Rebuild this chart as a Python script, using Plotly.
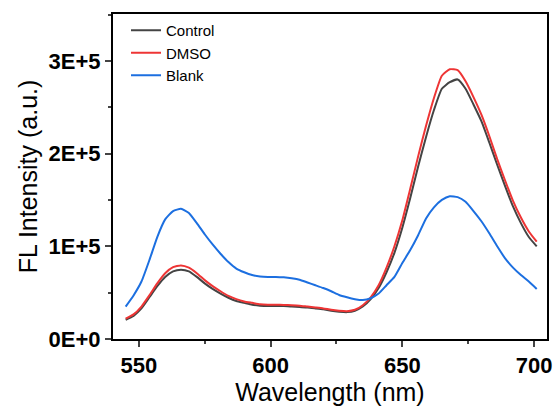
import plotly.graph_objects as go

wavelength = [545, 548, 551, 554, 557, 560, 563, 566, 569, 572, 575, 578, 581, 584, 587, 590,
              593, 596, 599, 602, 605, 608, 611, 614, 617, 620, 623, 626, 629, 632, 635, 638,
              641, 644, 647, 650, 653, 656, 659, 662, 665, 668, 671, 674, 677, 680, 683, 686,
              689, 692, 695, 698, 701]

control = [0.208, 0.25, 0.33, 0.45, 0.57, 0.67, 0.73, 0.748, 0.73, 0.67, 0.60, 0.54, 0.49, 0.445,
           0.41, 0.39, 0.37, 0.36, 0.355, 0.355, 0.355, 0.35, 0.345, 0.34, 0.33, 0.32, 0.305,
           0.295, 0.29, 0.305, 0.35, 0.43, 0.55, 0.72, 0.93, 1.20, 1.52, 1.86, 2.18, 2.47, 2.70,
           2.77, 2.80, 2.70, 2.53, 2.35, 2.12, 1.88, 1.65, 1.43, 1.25, 1.10, 1.00]

dmso = [0.22, 0.265, 0.35, 0.47, 0.60, 0.71, 0.775, 0.794, 0.77, 0.71, 0.635, 0.57, 0.515, 0.465,
        0.43, 0.405, 0.39, 0.375, 0.37, 0.37, 0.368, 0.365, 0.36, 0.35, 0.34, 0.33, 0.315,
        0.305, 0.30, 0.315, 0.365, 0.45, 0.58, 0.77, 1.00, 1.28, 1.62, 1.97, 2.30, 2.60, 2.84,
        2.91, 2.90, 2.78, 2.61, 2.42, 2.19, 1.94, 1.71, 1.49, 1.31, 1.16, 1.05]

blank = [0.35, 0.47, 0.62, 0.85, 1.10, 1.29, 1.38, 1.405, 1.36, 1.25, 1.13, 1.02, 0.92, 0.83,
         0.76, 0.72, 0.69, 0.675, 0.67, 0.67, 0.665, 0.655, 0.64, 0.61, 0.58, 0.55, 0.515,
         0.475, 0.45, 0.43, 0.42, 0.44, 0.49, 0.58, 0.67, 0.82, 0.96, 1.12, 1.30, 1.42, 1.50,
         1.54, 1.53, 1.48, 1.38, 1.27, 1.14, 1.00, 0.87, 0.77, 0.69, 0.62, 0.54]

scale = 1e5
x_ticks = [550, 600, 650, 700]
y_tick_vals = [0, 1e5, 2e5, 3e5]
y_tick_text = ["0E+0", "1E+5", "2E+5", "3E+5"]

series = [("Control", control, "#444444"), ("DMSO", dmso, "#ee3535"), ("Blank", blank, "#1c6fe0")]

fig = go.Figure()
for name, vals, color in series:
    fig.add_trace(go.Scatter(x=wavelength, y=[v * scale for v in vals], mode="lines", name=name,
                             line=dict(color=color, width=2, shape="spline", smoothing=0.5)))

font_family = "Liberation Sans, Arial, sans-serif"
fig.update_layout(
    width=558, height=406, autosize=False,
    margin=dict(l=113, r=11, t=14, b=67),
    plot_bgcolor="white", paper_bgcolor="white",
    font=dict(family=font_family, color="black"),
    legend=dict(x=0.03, y=1.0, xanchor="left", yanchor="top", bgcolor="rgba(0,0,0,0)",
                font=dict(size=15, family=font_family), tracegroupgap=0, itemwidth=30),
    showlegend=True,
)
fig.update_xaxes(
    range=[540.2, 704.9], tickvals=x_ticks, ticks="outside", ticklen=6, tickwidth=2,
    showline=True, linewidth=2, linecolor="black", mirror=True, showgrid=False, zeroline=False,
    tickfont=dict(size=22, family="Liberation Sans, Arial", weight="bold"),
    title=dict(text="Wavelength (nm)", font=dict(size=25), standoff=2),
    minor=dict(ticks="outside", ticklen=3, tickwidth=2, tick0=550, dtick=25, showgrid=False),
    automargin=False,
)
fig.update_yaxes(
    range=[0, 3.506e5], tickvals=y_tick_vals, ticktext=y_tick_text, ticks="outside", ticklen=6,
    tickwidth=2, showline=True, linewidth=2, linecolor="black", mirror=True, showgrid=False,
    zeroline=False, tickfont=dict(size=22, family="Liberation Sans, Arial", weight="bold"),
    title=dict(text="FL Intensity (a.u.)", font=dict(size=25), standoff=4),
    minor=dict(ticks="outside", ticklen=3, tickwidth=2, tick0=0, dtick=5e4, showgrid=False),
    automargin=False,
)

fig.write_html("out.html", config={"displayModeBar": False},
               post_script="document.body.style.margin='0';")
